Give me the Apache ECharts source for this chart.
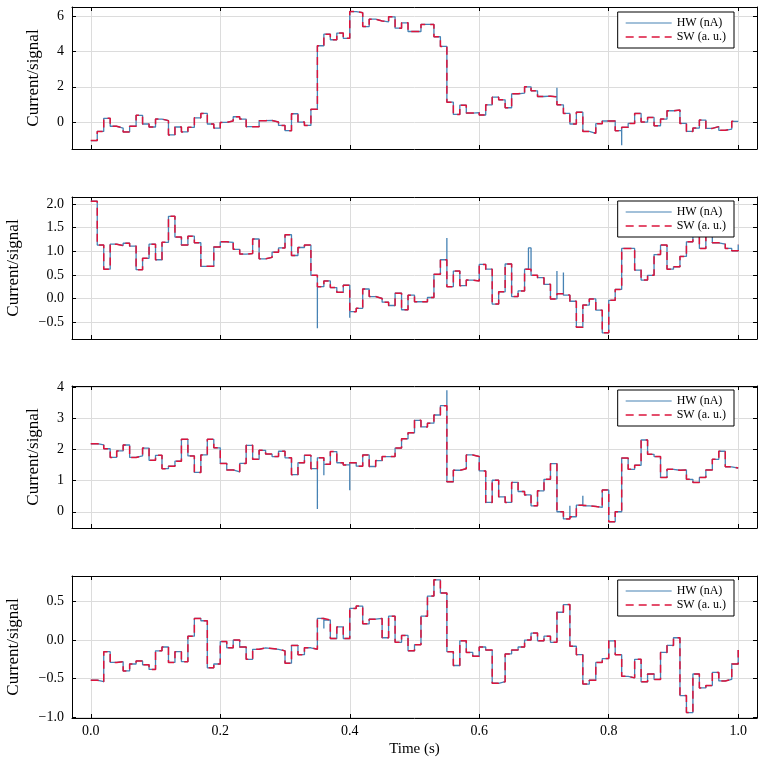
<!DOCTYPE html>
<html>
<head>
<meta charset="utf-8">
<script src="https://cdn.jsdelivr.net/npm/echarts@6/dist/echarts.min.js"></script>
<style>
html, body { margin: 0; padding: 0; background: #fff; }
#chart { width: 764px; height: 765px; }
</style>
</head>
<body>
<div id="chart"></div>
<script>
// one sample every 10 ms, 101 samples from 0.0 to 1.0 s
var dt = 0.01;

// panel 1
var sw1 = [-1.05,-0.53,0.21,-0.24,-0.34,-0.56,-0.24,0.38,-0.11,-0.28,
           0.17,0.08,-0.73,-0.28,-0.56,-0.30,0.24,0.49,-0.11,-0.34,
           -0.02,0.06,0.30,0.17,-0.26,-0.26,0.08,0.09,0.0,-0.19,
           -0.49,0.47,0.0,-0.19,0.72,4.33,4.99,4.67,5.05,4.75,
           6.27,6.21,5.42,5.84,5.74,5.69,5.97,5.33,5.63,5.14,
           5.14,5.54,5.54,4.84,4.29,1.13,0.43,0.96,0.51,0.53,
           0.40,0.98,1.41,1.26,0.81,1.60,1.64,2.0,1.77,1.45,
           1.47,1.43,0.98,0.49,-0.11,0.56,-0.53,-0.64,-0.09,0.06,
           0.06,-0.49,-0.30,-0.08,0.49,0.0,0.26,-0.21,0.17,0.64,
           0.68,-0.08,-0.53,-0.34,0.11,-0.36,-0.26,-0.47,-0.40,0.04,
           0.04];
// short glitches seen only in the hardware trace: [time, value]
var hwGlitch1 = [[0.72, 1.94], [0.82, -1.32]];

// panel 2
var sw2 = [2.06,1.13,0.62,1.15,1.12,1.17,1.11,0.61,0.85,1.15,
           0.82,1.19,1.74,1.30,1.13,1.32,1.18,0.68,0.68,1.09,
           1.20,1.19,1.04,0.94,0.95,1.26,0.84,0.87,0.98,1.07,
           1.35,0.91,1.08,1.13,0.49,0.25,0.37,0.23,0.13,0.28,
           -0.28,-0.21,0.20,0.04,0.0,-0.08,-0.15,0.11,-0.24,0.07,
           -0.07,-0.07,0.02,0.51,0.82,0.25,0.58,0.27,0.39,0.37,
           0.72,0.62,-0.12,0.14,0.73,0.04,0.16,0.62,0.49,0.44,
           0.30,-0.01,0.10,0.07,-0.06,-0.61,-0.14,-0.01,-0.25,-0.73,
           -0.04,0.19,1.06,1.06,0.60,0.39,0.49,0.93,1.13,0.62,
           0.67,0.89,1.20,1.41,1.06,1.41,1.18,1.15,1.06,1.01,
           1.14];
var hwGlitch2 = [[0.35, -0.63], [0.40, -0.41], [0.55, 1.28], [0.676, 1.07], [0.72, 0.58], [0.73, 0.55]];

// panel 3
var sw3 = [2.18,2.14,2.02,1.74,1.95,2.14,1.74,1.79,2.04,1.65,
           1.81,1.38,1.46,1.62,2.32,1.79,1.26,1.82,2.32,2.05,
           1.55,1.34,1.28,1.55,2.13,1.68,1.97,1.85,1.77,1.94,
           1.73,1.19,1.57,1.81,1.38,1.73,1.52,1.93,1.57,1.50,
           1.57,1.46,1.82,1.45,1.64,1.77,1.77,2.04,2.34,2.53,
           2.93,2.72,2.84,3.10,3.40,0.96,1.33,1.38,1.82,1.77,
           1.31,0.30,1.01,0.48,0.30,0.94,0.65,0.54,0.19,0.67,
           1.04,1.54,0.0,-0.23,-0.16,0.21,0.19,0.17,0.14,0.70,
           -0.32,0.0,1.72,1.36,1.49,2.30,1.84,1.77,1.10,1.36,
           1.33,1.34,1.04,0.94,1.10,1.34,1.68,1.94,1.44,1.40,
           1.40];
var hwGlitch3 = [[0.35, 0.09], [0.36, 1.17], [0.40, 0.69], [0.55, 3.89], [0.74, 0.19], [0.76, 0.51]];

// panel 4
var sw4 = [-0.52,-0.54,-0.15,-0.29,-0.28,-0.40,-0.31,-0.27,-0.32,-0.38,
           -0.14,-0.09,-0.29,-0.15,-0.28,0.05,0.28,0.25,-0.36,-0.31,
           -0.02,-0.10,0.0,-0.09,-0.25,-0.12,-0.10,-0.11,-0.12,-0.14,
           -0.30,-0.07,-0.19,-0.10,-0.12,0.28,0.26,0.02,0.17,0.02,
           0.41,0.44,0.21,0.27,0.28,0.03,0.31,-0.03,0.06,-0.14,
           -0.06,0.31,0.57,0.78,0.61,-0.15,-0.33,-0.01,-0.16,-0.21,
           -0.09,-0.13,-0.56,-0.54,-0.18,-0.13,-0.09,0.0,0.09,-0.01,
           0.05,-0.03,0.36,0.46,-0.08,-0.19,-0.57,-0.52,-0.29,-0.24,
           -0.01,-0.19,-0.47,-0.49,-0.25,-0.54,-0.44,-0.51,-0.16,-0.07,
           0.03,-0.72,-0.94,-0.44,-0.62,-0.59,-0.42,-0.53,-0.51,-0.31,
           -0.13];
var hwGlitch4 = [[0.36, 0.15]];

var swData = [sw1, sw2, sw3, sw4];
var hwGlitches = [hwGlitch1, hwGlitch2, hwGlitch3, hwGlitch4];

// axis ranges and ticks
var yMin = [-1.53, -0.86, -0.52, -1.01];
var yMax = [6.53, 2.15, 4.03, 0.83];
var yTicks = [[0, 2, 4, 6], [-0.5, 0, 0.5, 1, 1.5, 2], [0, 1, 2, 3, 4], [-1, -0.5, 0, 0.5]];
var yDigits = [0, 1, 0, 1];
var xMin = -0.029, xMax = 1.029;
var xTicks = [0, 0.2, 0.4, 0.6, 0.8, 1.0];

var hwName = 'HW (nA)';
var swName = 'SW (a. u.)';

var FONT = '"Liberation Serif", "DejaVu Serif", serif';
var gridTops = [7, 197, 386, 576];
var gridH = 142;
var legendTops = [12, 201, 390, 580];
var HW_COLOR = '#4682b4', SW_COLOR = '#dc143c';

function swPoints(vals) {
  return vals.map(function (v, i) { return [+(i * dt).toFixed(2), v]; });
}
function hwPoints(vals, glitches) {
  var pts = swPoints(vals);
  var out = [];
  var g = glitches.slice().sort(function (a, b) { return a[0] - b[0]; });
  var gi = 0;
  for (var i = 0; i < pts.length; i++) {
    while (gi < g.length && g[gi][0] <= pts[i][0] + 1e-9) {
      out.push(g[gi]);
      gi++;
    }
    out.push(pts[i]);
  }
  return out;
}
function fmt(v, digits) {
  return v.toFixed(digits).replace('-', '\u2212');
}

var grids = [], xAxes = [], yAxes = [], series = [], legends = [];
for (var p = 0; p < 4; p++) {
  grids.push({ left: 72, right: 7, top: gridTops[p], height: gridH, outerBoundsMode: 'none' });
  var last = p === 3;
  var lineCommon = { show: true, onZero: false, lineStyle: { color: '#000', width: 1 } };
  var xTick = { show: true, inside: true, length: 4, customValues: xTicks, lineStyle: { color: '#000', width: 1 } };
  var yTick = { show: true, inside: true, length: 4, customValues: yTicks[p], lineStyle: { color: '#000', width: 1 } };
  xAxes.push({
    type: 'value', gridIndex: p, position: 'bottom', min: xMin, max: xMax,
    axisLine: lineCommon, axisTick: xTick,
    axisLabel: {
      show: last, customValues: xTicks, color: '#000', fontFamily: FONT, fontSize: 14, margin: 6,
      formatter: function (v) { return fmt(v, 1); }
    },
    splitLine: { show: true, lineStyle: { color: '#dcdcdc', width: 1 } },
    name: last ? 'Time (s)' : '', nameLocation: 'middle', nameGap: 24,
    nameTextStyle: { color: '#000', fontFamily: FONT, fontSize: 15 }
  });
  xAxes.push({
    type: 'value', gridIndex: p, position: 'top', min: xMin, max: xMax,
    axisLine: lineCommon, axisTick: xTick, axisLabel: { show: false }, splitLine: { show: false }
  });
  (function (pp) {
    yAxes.push({
      type: 'value', gridIndex: pp, position: 'left', min: yMin[pp], max: yMax[pp],
      axisLine: lineCommon, axisTick: yTick,
      axisLabel: {
        customValues: yTicks[pp], color: '#000', fontFamily: FONT, fontSize: 14, margin: 8,
        formatter: function (v) { return fmt(v, yDigits[pp]); }
      },
      splitLine: { show: true, lineStyle: { color: '#dcdcdc', width: 1 } },
      name: 'Current/signal', nameLocation: 'middle', nameRotate: 90,
      nameGap: yDigits[pp] ? 50 : 30,
      nameTextStyle: { color: '#000', fontFamily: FONT, fontSize: 17 }
    });
  })(p);
  yAxes.push({
    type: 'value', gridIndex: p, position: 'right', min: yMin[p], max: yMax[p],
    axisLine: lineCommon, axisTick: yTick, axisLabel: { show: false }, splitLine: { show: false }
  });

  series.push({
    name: hwName, type: 'line', step: 'end', symbol: 'none',
    xAxisIndex: p * 2, yAxisIndex: p * 2,
    lineStyle: { color: HW_COLOR, width: 1.3 }, itemStyle: { color: HW_COLOR },
    data: hwPoints(swData[p], hwGlitches[p]), z: 2, silent: true, animation: false
  });
  series.push({
    name: swName, type: 'line', step: 'end', symbol: 'none',
    xAxisIndex: p * 2, yAxisIndex: p * 2,
    lineStyle: { color: SW_COLOR, width: 1.5, type: [8, 5] }, itemStyle: { color: SW_COLOR },
    data: swPoints(swData[p]), z: 3, silent: true, animation: false
  });

  legends.push({
    data: [
      { name: hwName, icon: 'path://M0,0H46V1.2H0Z' },
      { name: swName, icon: 'path://M0,0h8v1.5h-8zM13,0h8v1.5h-8zM26,0h8v1.5h-8zM39,0h7v1.5h-7z' }
    ],
    orient: 'vertical', right: 30, top: legendTops[p],
    itemWidth: 46, itemHeight: 10, itemGap: 2, padding: [5, 8, 5, 8],
    backgroundColor: '#fff', borderColor: '#000', borderWidth: 1, borderRadius: 0,
    textStyle: { color: '#000', fontFamily: FONT, fontSize: 12 },
    selectedMode: false
  });
}

var chart = echarts.init(document.getElementById('chart'));
chart.setOption({
  animation: false,
  backgroundColor: '#fff',
  grid: grids,
  xAxis: xAxes,
  yAxis: yAxes,
  legend: legends,
  series: series
});
</script>
</body>
</html>
